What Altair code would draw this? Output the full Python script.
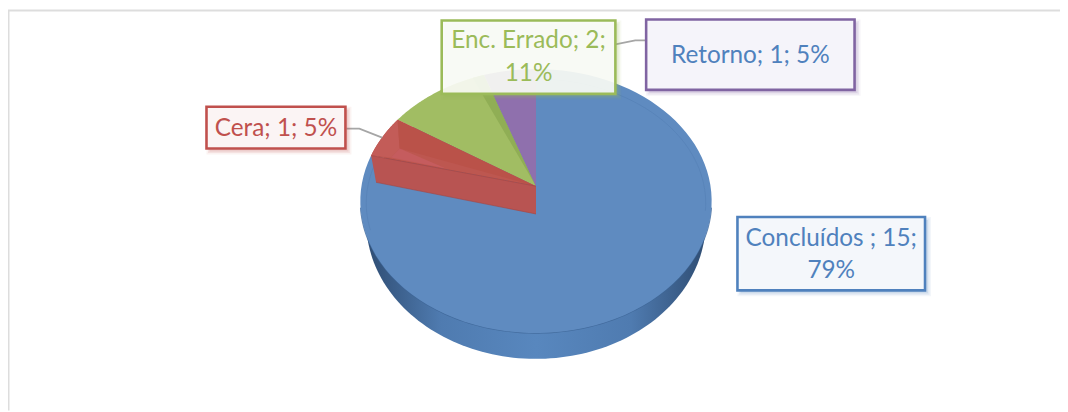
import altair as alt
import numpy as np
import pandas as pd

# ---- values ----
categories = ["Concluídos ", "Cera", "Enc. Errado", "Retorno"]
values = [15, 1, 2, 1]
percents = [79, 5, 11, 5]

# ---- page geometry ----
W, H = 1060, 404
CX, CY, RX, RY = 540, 201, 177, 133      # face ellipse
AX, AY, DIRY = 540, 186, 130             # perspective apex of the slices
FONT = "Lato"
FS = 24.5
BLUE, RED, GREEN, PURPLE = "#4F81BD", "#C0504D", "#9BBB59", "#8064A2"

xs = alt.Scale(domain=[8, 8 + W], range=[0, W], nice=False, zero=False)
ys = alt.Scale(domain=[8, 8 + H], range=[0, H], nice=False, zero=False)
X = lambda f="x": alt.X(f"{f}:Q", scale=xs, axis=None)
Y = lambda f="y": alt.Y(f"{f}:Q", scale=ys, axis=None)


def rim(theta_deg):
    """Where the ray at share-angle theta (clockwise from top) meets the face ellipse."""
    t = np.radians(theta_deg)
    dx, dy = np.sin(t) * RX, -np.cos(t) * DIRY
    ox, oy = (AX - CX) / RX, (AY - CY) / RY
    ux, uy = dx / RX, dy / RY
    a, b, c = ux**2 + uy**2, 2 * (ox * ux + oy * uy), ox**2 + oy**2 - 1
    s = (-b + np.sqrt(b**2 - 4 * a * c)) / (2 * a)
    return AX + s * dx, AY + s * dy


def arc(a, b, n=90):
    return [rim(t) for t in np.linspace(a, b, n)]


def ellipse(cx, cy, rx, ry, a=0.0, b=2 * np.pi, n=200):
    t = np.linspace(a, b, n)
    return list(zip(cx + rx * np.cos(t), cy + ry * np.sin(t)))


def poly(points, fill, opacity=1.0):
    d = pd.DataFrame(points, columns=["x", "y"]).assign(i=lambda f: range(len(f)))
    return alt.Chart(d).mark_line(
        fill=fill, filled=True, strokeWidth=0, opacity=opacity, interpolate="linear"
    ).encode(x=X(), y=Y(), order=alt.Order("i:Q"))


def stroke_line(points, color, width=1.0, opacity=1.0):
    d = pd.DataFrame(points, columns=["x", "y"]).assign(i=lambda f: range(len(f)))
    return alt.Chart(d).mark_line(color=color, strokeWidth=width, opacity=opacity).encode(
        x=X(), y=Y(), order=alt.Order("i:Q")
    )


# share angles, clockwise from 12 o'clock
total = sum(values)
deg = [v / total * 360 for v in values]
blue_end = deg[0]
red_end = blue_end + deg[1]
green_end = red_end + deg[2]
apex = (AX, AY)

layers = []

# side wall
wall = alt.LinearGradient(
    gradient="linear", x1=0, x2=1, y1=0, y2=0,
    stops=[
        alt.GradientStop(color="#2F4D73", offset=0),
        alt.GradientStop(color="#4F7BB0", offset=0.22),
        alt.GradientStop(color="#5887BE", offset=0.5),
        alt.GradientStop(color="#4F7BB0", offset=0.78),
        alt.GradientStop(color="#2F4D73", offset=1),
    ],
)
layers.append(poly(ellipse(CX, 222, 171, 138), wall))
layers.append(stroke_line(ellipse(CX, CY, RX, RY, 0.05, np.pi - 0.05, 120), "#3F6797", 1.2, 0.8))

# slices
layers.append(poly([apex] + arc(0, blue_end), "#5F8BC0"))
layers.append(stroke_line(ellipse(CX, 203, 171, 125, np.pi * 0.93, np.pi * 2.02), "#4F7AAE", 1.0, 0.4))

r0, r1 = rim(blue_end), rim(red_end)
layers.append(poly([apex] + arc(red_end, green_end), "#A1BD63"))
layers.append(poly([apex] + arc(green_end - 4.3, green_end), "#90AE55"))
layers.append(poly([apex] + arc(green_end, 360), "#8F70AD"))

# red slice, with its inner walls and front wall
D_WALL = (2, 29)
D_RIM = (20, 2)
D_FRONT = (5, 27)
inner1 = (r1[0] + D_WALL[0], r1[1] + D_WALL[1])
inner0 = (r0[0] + D_RIM[0], r0[1] + D_RIM[1])
layers.append(poly([apex] + arc(blue_end, red_end), "#BD5750"))
layers.append(poly(arc(blue_end, red_end, 30) + [inner1, inner0], "#C35C58"))
layers.append(poly([apex, r1, inner1], "#BA5249"))
mid_floor = (AX + (inner0[0] - AX) * 0.62, AY + (inner0[1] - AY) * 0.62)
layers.append(poly([inner1, inner0, mid_floor], "#C55C5E"))
layers.append(poly(
    [apex, r0, (r0[0] + D_FRONT[0], r0[1] + D_FRONT[1]), (AX, AY + 28)], "#B85452"))
layers.append(stroke_line([apex, r0], "#A8443F", 1, 0.7))
layers.append(stroke_line([(r0[0] + D_FRONT[0], r0[1] + D_FRONT[1]), (AX, AY + 28)], "#A8443F", 1, 0.6))

# chart frame
frame = pd.DataFrame({"x": [8.5, 8.5, 1068], "y": [412, 9, 9], "i": [0, 1, 2]})
layers.insert(0, alt.Chart(frame).mark_line(color="#DDDDDD", strokeWidth=2).encode(
    x=X(), y=Y(), order=alt.Order("i:Q")))

# leader lines
leader_color = "#A6A6A6"
layers.append(stroke_line([(349, 128), (362, 128), (385, 137)], leader_color, 1.8))
layers.append(stroke_line([(620, 43), (640, 39), (652, 39)], leader_color, 1.8))

# label boxes: x0, x1, y0, y1, border, text colour, fill, fill opacity, text lines, line centres, text x
boxes = [
    (743, 932, 217, 291, BLUE, BLUE, "#F6F9FC", 0.95, [f"{categories[0]}; {values[0]};", f"{percents[0]}%"], [239, 272], 837.5),
    (208, 348, 106, 148, RED, RED, "#FCF6F5", 0.95, [f"{categories[1]}; {values[1]}; {percents[1]}%"], [128], 278),
    (445, 620, 19, 93, GREEN, GREEN, "#FBFCF8", 0.9, [f"{categories[2]}; {values[2]};", f"{percents[2]}%"], [40, 73], 532.5),
    (651, 861, 18, 89, PURPLE, BLUE, "#F7F6FB", 0.95, [f"{categories[3]}; {values[3]}; {percents[3]}%"], [55], 756),
]
for x0, x1, y0, y1, border, tcolor, bfill, fop, lines, ly, tx in boxes:
    for grow, op in ((6, 0.07), (4.5, 0.10), (3, 0.14)):
        sd = pd.DataFrame({"x": [x0 + 6 - grow], "x2": [x1 + grow], "y": [y0 + 6 - grow], "y2": [y1 + grow]})
        layers.append(alt.Chart(sd).mark_rect(color=border, opacity=op).encode(
            x=X(), x2="x2:Q", y=Y(), y2="y2:Q"))
    bd = pd.DataFrame({"x": [x0], "x2": [x1], "y": [y0], "y2": [y1]})
    layers.append(alt.Chart(bd).mark_rect(
        fill=bfill, fillOpacity=fop, stroke=border, strokeWidth=2.6
    ).encode(x=X(), x2="x2:Q", y=Y(), y2="y2:Q"))
    td = pd.DataFrame({"x": [tx] * len(lines), "y": ly, "t": lines})
    layers.append(alt.Chart(td).mark_text(
        font=FONT, fontSize=FS, color=tcolor, align="center", baseline="middle"
    ).encode(x=X(), y=Y(), text="t:N"))

chart = alt.layer(*layers).properties(
    width=W, height=H, padding=0, background="white", autosize=alt.AutoSizeParams(type="none")
).configure_view(stroke=None)

chart.save("out.html", embed_options={"renderer": "svg", "actions": False})
